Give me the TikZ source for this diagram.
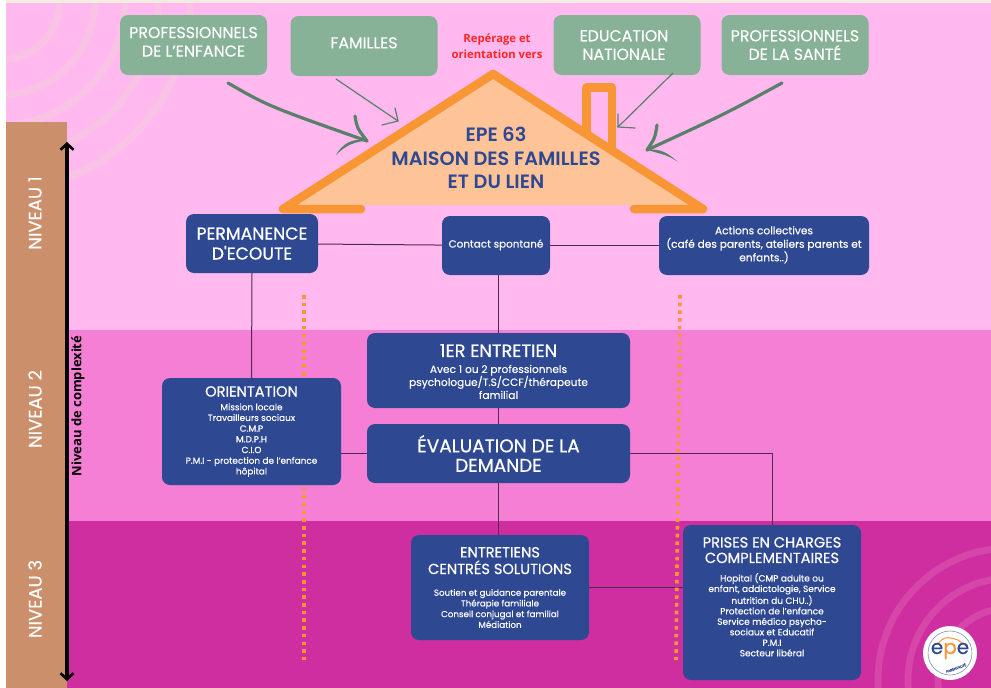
\documentclass[tikz,border=0pt]{standalone}
\usepackage{fontspec}
\setmainfont{Poppins}[FakeBold=0.3]
\newfontfamily\redfont{Open Sans}
\newfontfamily\heavyfont{Poppins SemiBold}
\newfontfamily\headfont{Poppins}[FakeBold=0.7]
\usetikzlibrary{arrows.meta}
\definecolor{toppink}{HTML}{FFB9EE}
\definecolor{midpink}{HTML}{F57FD5}
\definecolor{lowpink}{HTML}{CE2E9F}
\definecolor{brownband}{HTML}{CC8F6B}
\definecolor{sage}{HTML}{88B298}
\definecolor{darksage}{HTML}{5A7F6B}
\definecolor{navy}{HTML}{2E4892}
\definecolor{roofline}{HTML}{F89636}
\definecolor{rooffill}{HTML}{FFC398}
\definecolor{linkcol}{HTML}{4F2A55}
\definecolor{ringtop}{HTML}{F9C3E6}
\definecolor{ringlow}{HTML}{D645A8}
\newcommand{\fs}[2]{\fontsize{#1}{#2}\selectfont}
\newcommand{\heading}[1]{\headfont\fs{14.6}{17}#1}
\tikzset{
  greenbox/.style={fill=sage, rounded corners=8, text=white, align=center, minimum width=147, minimum height=60, inner sep=0, font=\fs{15.8}{18.5}},
  bluebox/.style={fill=navy, rounded corners=8, text=white, align=center, inner sep=0},
  levellabel/.style={text=white, rotate=90, inner sep=0, font=\fs{18}{20}},
  link/.style={draw=linkcol, line width=1},
  thickarrow/.style={draw=darksage, line width=3.2, line cap=round},
  thinarrow/.style={draw=darksage, line width=1.2, line cap=round},
  dots/.style={draw=roofline, line width=3.6, dash pattern=on 3.6 off 4.1},
  ring/.style={line width=7}
}
\begin{document}
\begin{tikzpicture}[x=1pt,y=-1pt]
   \useasboundingbox (0,0) rectangle (991,688);
   % background bands
   \fill [white] (0,0) rectangle (991,688);
   \fill [toppink] (6,3) rectangle (991,330);
   \fill [midpink] (6,330) rectangle (991,521);
   \fill [lowpink] (6,521) rectangle (991,688);
   \fill [brown!15!white] (6,0) rectangle (991,3);
   \begin{scope}
      \clip (6,3) rectangle (991,330);
      \foreach \r in {60,95,125,158,190}
         \draw [ring, draw=ringtop] (0,0) circle [radius=\r];
   \end{scope}
   \begin{scope}
      \clip (6,521) rectangle (991,688);
      \foreach \r in {72,102,132}
         \draw [ring, draw=ringlow] (1010,680) circle [radius=\r];
   \end{scope}
   \fill [brownband] (6,122) rectangle (67,688);

   % level scale
   \coordinate (scaletop) at (67,142);
   \coordinate (scalebot) at (67,681);
   \draw [line width=3.2, {Straight Barb[length=6,width=13,line width=2.6]}-{Straight Barb[length=6,width=13,line width=2.6]}] (scaletop) -- (scalebot);
   \node [levellabel] (niveauun) at (35,213) {NIVEAU 1};
   \node [levellabel] (niveaudeux) at (35,409) {NIVEAU 2};
   \node [levellabel] (niveautrois) at (35,599) {NIVEAU 3};
   \node [rotate=90, inner sep=0, font=\redfont\bfseries\fs{13}{15}] (complexite) at (78,406) {Niveau de complexité};

   % dotted separators
   \coordinate (dotsla) at (304,295);
   \coordinate (dotslb) at (304,660);
   \coordinate (dotsra) at (680,295);
   \coordinate (dotsrb) at (676,660);
   \draw [dots] (dotsla) -- (dotslb);

   % house
   \fill [rooffill] (293,205) -- (493,75) -- (690,205) -- cycle;
   \draw [roofline, line width=8.5, line join=round, line cap=round] (361,209) -- (283,209) -- (493,74) -- (703,209) -- (634,209);
   \draw [roofline, line width=8.5, line join=round] (586.5,134) -- (586.5,87.5) -- (612,87.5) -- (612,149);
   \node [text=navy, align=center, inner sep=0, font=\heavyfont\fs{19.3}{23.5}] (maison) at (496,158) {EPE 63\\MAISON DES FAMILLES\\ET DU LIEN};
   \node [text=red!85!white, align=center, inner sep=0, font=\redfont\bfseries\fs{11.3}{16}] (reperage) at (497,46) {Repérage et\\orientation vers};

   % partners
   \node [greenbox] (profenf) at (193.5,45) {PROFESSIONNELS\\DE L'ENFANCE\\[-12pt]\mbox{}};
   \node [greenbox] (familles) at (364,46) {FAMILLES\\[-12pt]\mbox{}};
   \node [greenbox] (educ) at (627,45) {EDUCATION\hspace*{6pt}\\NATIONALE\hspace*{6pt}};
   \node [greenbox] (sante) at (795,45) {PROFESSIONNELS\\DE LA SANTÉ};

   % blue boxes
   \node [bluebox, minimum width=132, minimum height=59, font=\headfont\fs{17.2}{20}] (permanence) at (252,243.5) {PERMANENCE\\D'ECOUTE};
   \node [bluebox, minimum width=108, minimum height=59, font=\fs{10.4}{13}] (contact) at (496,245.5) {Contact spontané\\[-9pt]\mbox{}};
   \node [bluebox, minimum width=210, minimum height=59, font=\fs{10.6}{13.5}] (actions) at (764,245.5) {Actions collectives\\(café des parents, ateliers parents et\\enfants..)\\[-10pt]\mbox{}};
   \node [bluebox, minimum width=263, minimum height=75, font=\fs{10.6}{13}] (entretien) at (498.5,370.5) {\rule{0pt}{15pt}\headfont\fs{17.8}{19}1ER ENTRETIEN\\[3pt]Avec 1 ou 2 professionnels\\psychologue/T.S/CCF/thérapeute\\familial};
   \node [bluebox, minimum width=263, minimum height=59, font=\headfont\fs{18.5}{19.5}] (evaluation) at (498.5,453.5) {ÉVALUATION DE LA\\DEMANDE};
   \node [bluebox, minimum width=179, minimum height=107, font=\fs{8.9}{10.7}] (orientation) at (251.5,431.5) {\heading{ORIENTATION}\\[3pt]Mission locale\\Travailleurs sociaux\\C.M.P\\M.D.P.H\\C.I.O\\P.M.I - protection de l'enfance\\hôpital};
   \node [bluebox, minimum width=178, minimum height=105, font=\fs{8.7}{10.7}] (solutions) at (500,587.5) {\heading{ENTRETIENS}\\[2pt]\heading{CENTRÉS SOLUTIONS}\\[11pt]Soutien et guidance parentale\\Thérapie familiale\\Conseil conjugal et familial\\Médiation};
   \node [bluebox, minimum width=178, minimum height=155, font=\fs{9}{10.5}] (prises) at (772,602.5) {\heading{PRISES EN CHARGES}\\[5pt]\heading{COMPLEMENTAIRES}\\[8pt]Hopital (CMP adulte ou\\enfant, addictologie, Service\\nutrition du CHU..)\\Protection de l'enfance\\Service médico psycho-\\sociaux et Educatif\\P.M.I\\Secteur libéral\\[1pt]\mbox{}};

   % connectors
   \draw [link] (permanence) -- (contact);
   \draw [link] (contact) -- (actions);
   \draw [link] (permanence.south) -- (orientation.north);
   \draw [link] (contact.south -| entretien) -- (entretien.north);
   \draw [link] (entretien) -- (evaluation);
   \draw [link] (orientation.east |- evaluation) -- (evaluation);
   \draw [link] (evaluation.south) -- (solutions.north -| evaluation);
   \draw [link] (evaluation.east) -- (prises.north |- evaluation.east) -- (prises.north);
   \draw [link] (solutions) -- (prises.west |- solutions);
   \draw [dots] (dotsra) -- (dotsrb);

   % arrows towards the house
   \coordinate (enfstart) at (228,83);
   \coordinate (enftip) at (367,141);
   \draw [thickarrow] (enfstart) .. controls (268,106) .. (enftip);
   \draw [thickarrow] (355,116) .. controls (357,128) .. (enftip);
   \fill [darksage] (336,155) .. controls (345,146) and (355,141) .. (enftip) .. controls (353,137) and (342,144) .. cycle;
   \coordinate (famstart) at (336,79);
   \coordinate (famtip) at (398,121);
   \draw [thinarrow] (famstart) -- (famtip);
   \draw [thinarrow] (395,108) -- (famtip) -- (382,125);
   \coordinate (edustart) at (673,73);
   \coordinate (edutip) at (618,127);
   \draw [thinarrow] (edustart) -- (edutip);
   \draw [thinarrow] (618,114) -- (edutip) -- (635,128);
   \coordinate (sanstart) at (782,83);
   \coordinate (santip) at (647,150);
   \draw [thickarrow] (sanstart) .. controls (725,114) .. (santip);
   \draw [thickarrow] (657,125) .. controls (655,138) .. (santip);
   \fill [darksage] (678,162) .. controls (668,153) and (660,148) .. (santip) .. controls (662,154) and (670,156) .. cycle;

   % logo
   \node [circle, fill=white, minimum size=54, inner sep=0] (logo) at (950,653) {};
   \draw [navy!60!white, line width=.6] (logo) circle [radius=22];
   \draw [roofline, line width=1] (937,645) .. controls (945,634) and (950,638) .. (958,640) -- (966,646);
   \node [text=navy, inner sep=0, font=\fs{20}{20}] (logoepe) at (950,651) {e\textcolor{roofline}{p}e};
   \node [text=navy, rotate=20, inner sep=0, font=\fs{3.5}{4}] (logopar) at (956,668) {PARENTALITÉ};
\end{tikzpicture}
\end{document}
